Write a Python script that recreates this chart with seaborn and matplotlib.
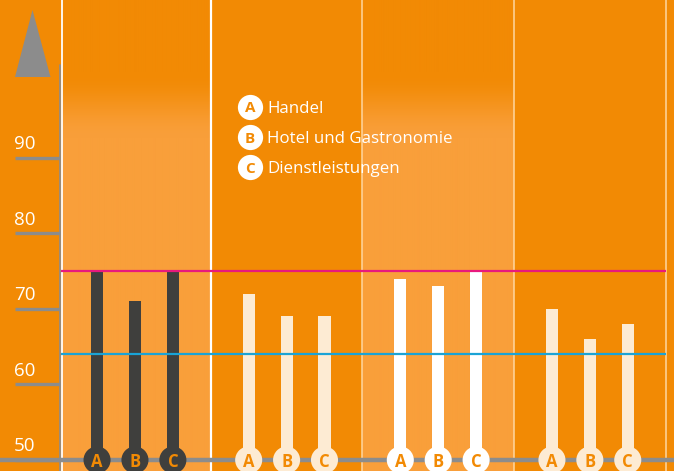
import numpy as np
import pandas as pd
import seaborn as sns
import matplotlib.pyplot as plt
from matplotlib.colors import to_rgb

# ---------------- data ----------------
letters = ["A", "B", "C"]
legend_labels = ["Handel", "Hotel und Gastronomie", "Dienstleistungen"]
panels = ["P1", "P2", "P3", "P4"]
values_p1 = [75, 71, 75]
values_p2 = [72, 69, 69]
values_p3 = [74, 73, 75]
values_p4 = [70, 66, 68]
ref_high = 75
ref_low = 64
y_ticks = [50, 60, 70, 80, 90]

# ---------------- style ----------------
DARK = "#F28A04"
LIGHT = "#F99F3A"
GRAY = "#8C8C8C"
bar_colors = {"P1": "#3F3F3D", "P2": "#FDEBD3", "P3": "#FFFFFF", "P4": "#FDEBD3"}

sns.set_theme(style="white")
plt.rcParams["font.family"] = ["Open Sans", "DejaVu Sans"]

rows = []
for gi, (p, vals) in enumerate(zip(panels, [values_p1, values_p2, values_p3, values_p4])):
    for li, (l, v) in enumerate(zip(letters, vals)):
        rows.append({"panel": p, "letter": l, "value": v, "pos": gi * 4 + li})
df = pd.DataFrame(rows)
df["base"] = y_ticks[0]

W, H = 674, 471
XL = (-2.56, 15.22)
YL = (48.545, 110.85)

def px(xp):
    return XL[0] + xp / W * (XL[1] - XL[0])

def py(yp):
    return YL[1] - yp / H * (YL[1] - YL[0])

fig = plt.figure(figsize=(W / 100, H / 100), dpi=100)
fig.patch.set_facecolor(DARK)
ax = fig.add_axes([0, 0, 1, 1])
ax.set_facecolor(DARK)

# gradient panels (1 and 3)
yp = np.arange(H)
t = np.clip((yp - 72) / (138 - 72), 0, 1)
t = t * t * (3 - 2 * t)
d = np.array(to_rgb(DARK)); l = np.array(to_rgb(LIGHT))
img = (d[None, :] * (1 - t[:, None]) + l[None, :] * t[:, None])[:, None, :]
for gi in [0, 2]:
    x0 = gi * 4 - 1 if gi else -0.93
    ax.imshow(img, extent=[x0, gi * 4 + 3, YL[0], YL[1]], origin="upper",
              aspect="auto", zorder=0, interpolation="bilinear")

# bars
sns.barplot(data=df, x="pos", y="value", hue="panel", palette=bar_colors,
            native_scale=True, dodge=False, width=0.32, saturation=1,
            errorbar=None, legend=False, ax=ax, zorder=3, linewidth=0)

# separators
ax.axvline(px(60), ymin=0, ymax=1 - 65 / H, color=GRAY, lw=1.2, zorder=2)
ax.axvline(px(61.6), color="white", lw=1.3, zorder=2)
ax.axvline(3, color="white", lw=1.6, zorder=2)
for xv in [7, 11, 15]:
    ax.axvline(xv, color="#FFD6A0", lw=1.1, zorder=2)

# reference lines
ax.hlines(ref_high, -0.95, 15, color="#E8197D", lw=1.6, zorder=4)
ax.hlines(ref_low, -0.95, 15, color="#1AA3D6", lw=1.6, zorder=4)

# baseline
ax.axhline(y_ticks[0], color=GRAY, lw=3.2, zorder=2)

# bottom letter circles
sns.scatterplot(data=df, x="pos", y="base", hue="panel", palette=bar_colors,
                s=380, linewidth=0, legend=False, ax=ax, zorder=5)
for _, r in df.iterrows():
    ax.text(r["pos"], r["base"], r["letter"], ha="center", va="center_baseline",
            color=DARK, fontsize=12, fontweight="bold", zorder=6)

# y ticks
ax.hlines(y_ticks, px(15), px(60), color=GRAY, lw=2.4, zorder=2)
for tv in y_ticks:
    ax.text(px(14), tv + 1.15, str(tv), ha="left", va="baseline",
            color="white", fontsize=13.5, zorder=6)

# triangle
ax.fill([px(15), px(32.5), px(50.5)], [py(77), py(10), py(77)], color=GRAY, zorder=5, lw=0)

# legend
leg_y = [py(106.7), py(137.3), py(167.3)]
ax.scatter([px(250)] * 3, leg_y, s=330, color="white", linewidth=0, zorder=5)
for ly, lt, lab in zip(leg_y, letters, legend_labels):
    ax.text(px(250), ly, lt, ha="center", va="center_baseline", color=DARK,
            fontsize=11, fontweight="bold", zorder=6)
    ax.text(px(267), ly, lab, ha="left", va="center_baseline", color="white",
            fontsize=12.2, zorder=6)

ax.set_xlim(*XL)
ax.set_ylim(*YL)
ax.axis("off")
fig.savefig("out.png", dpi=100, facecolor=DARK)
